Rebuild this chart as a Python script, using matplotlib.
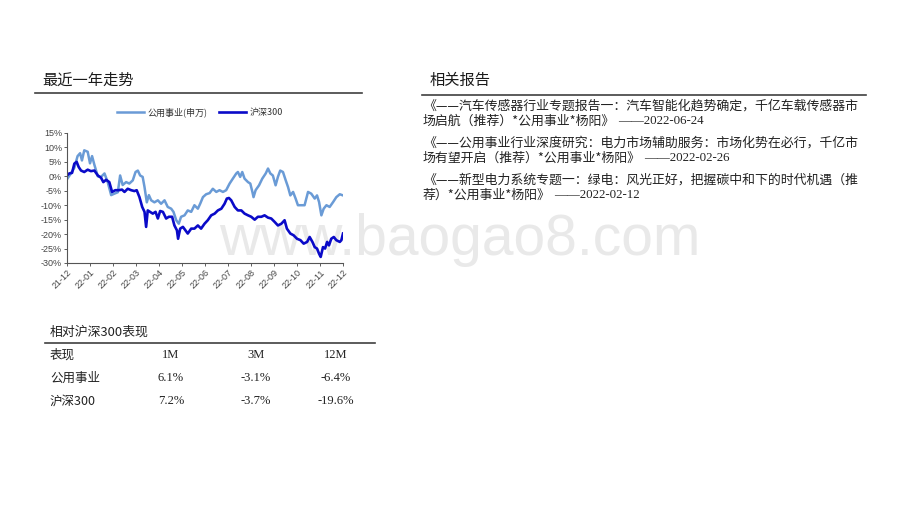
import matplotlib.pyplot as plt
import numpy as np

plt.rcParams['font.family'] = ['Noto Sans CJK SC', 'DejaVu Sans']

# month offsets from 21-12 and cumulative return (%)
util_x = [0.00, 0.17, 0.32, 0.46, 0.57, 0.65, 0.75, 0.90, 1.00, 1.09, 1.19, 1.34, 1.48, 1.63, 1.77,
          1.92, 2.06, 2.21, 2.31, 2.42, 2.57, 2.71, 2.86, 2.98, 3.08, 3.18, 3.29, 3.37, 3.47, 3.56,
          3.66, 3.80, 3.95, 4.09, 4.24, 4.38, 4.53, 4.63, 4.75, 4.86, 4.96, 5.11, 5.25, 5.40, 5.54,
          5.69, 5.79, 5.91, 6.05, 6.20, 6.34, 6.49, 6.63, 6.78, 6.92, 7.07, 7.21, 7.36, 7.43, 7.53,
          7.62, 7.72, 7.87, 7.97, 8.06, 8.11, 8.20, 8.35, 8.49, 8.64, 8.74, 8.84, 8.95, 9.07, 9.17,
          9.27, 9.39, 9.51, 9.61, 9.71, 9.83, 9.94, 10.04, 10.19, 10.33, 10.48, 10.62, 10.77, 10.87,
          10.96, 11.06, 11.16, 11.28, 11.42, 11.57, 11.71, 11.86, 12.00]
util_y = [-1.0, 1.0, 3.0, 7.0, 8.0, 5.5, 9.0, 8.5, 4.5, 7.0, 4.0, 0.0, -0.2, 1.0, -2.0,
          -6.5, -6.0, -5.5, 0.3, -3.0, -2.0, -2.5, -1.4, 1.5, 2.0, 0.3, -0.2, -3.7, -9.0, -6.5,
          -8.3, -9.0, -8.3, -9.5, -8.3, -10.6, -11.2, -12.3, -15.2, -16.4, -14.0, -13.5, -11.8, -12.3, -10.0,
          -11.2, -9.5, -7.2, -6.2, -5.8, -4.3, -5.4, -4.8, -5.4, -4.8, -2.5, -0.8, 1.0, 1.5, -0.2,
          1.5, -0.8, -2.0, -2.5, -5.4, -7.2, -4.8, -3.1, -0.8, 1.0, 2.7, 1.0, 0.3, -3.1, -0.2,
          2.0, 1.5, -1.4, -3.7, -6.6, -5.4, -7.7, -10.0, -10.0, -10.0, -5.4, -6.0, -7.7, -6.6,
          -8.9, -13.5, -11.2, -10.0, -10.6, -8.9, -7.2, -6.2, -6.6]

hs300_x = [0.00, 0.10, 0.22, 0.32, 0.42, 0.51, 0.61, 0.75, 0.90, 1.04, 1.19, 1.34, 1.48, 1.58, 1.70,
           1.84, 1.96, 2.10, 2.25, 2.39, 2.50, 2.64, 2.79, 2.93, 3.03, 3.15, 3.27, 3.37, 3.44, 3.51,
           3.61, 3.73, 3.85, 3.95, 4.05, 4.17, 4.31, 4.43, 4.57, 4.67, 4.78, 4.83, 4.92, 5.04, 5.15,
           5.25, 5.40, 5.54, 5.69, 5.83, 5.98, 6.12, 6.27, 6.42, 6.56, 6.71, 6.85, 6.95, 7.04, 7.14,
           7.29, 7.43, 7.58, 7.72, 7.87, 8.01, 8.16, 8.30, 8.45, 8.59, 8.74, 8.88, 9.03, 9.17, 9.32,
           9.46, 9.56, 9.71, 9.85, 10.00, 10.15, 10.29, 10.44, 10.55, 10.67, 10.77, 10.87, 10.96, 11.03,
           11.13, 11.22, 11.31, 11.39, 11.49, 11.60, 11.71, 11.86, 11.93, 12.00]
hs300_y = [0.3, 1.0, 1.2, 4.4, 5.0, 3.2, 2.0, 1.5, 2.3, 1.8, 2.0, 0.3, -0.5, -2.0, -1.2,
           -2.0, -5.4, -4.8, -4.8, -4.6, -5.4, -4.3, -4.8, -5.1, -4.8, -7.2, -10.6, -12.3, -17.5, -11.8,
           -12.3, -12.9, -12.3, -14.6, -12.0, -12.3, -14.6, -14.0, -14.0, -17.0, -18.7, -21.6, -18.1, -17.5, -18.7,
           -19.8, -18.1, -18.1, -17.0, -18.1, -16.4, -15.2, -13.5, -12.9, -11.8, -11.2, -9.5, -7.7, -7.5, -8.3,
           -10.6, -11.8, -11.8, -12.9, -13.5, -14.0, -15.0, -14.0, -14.0, -13.5, -14.3, -14.6, -15.8, -17.0, -16.4,
           -15.2, -18.1, -19.8, -20.4, -21.6, -22.1, -23.3, -22.7, -21.0, -22.7, -24.5, -25.0, -26.8, -27.9,
           -24.5, -25.0, -22.7, -23.9, -21.6, -21.0, -22.1, -22.7, -22.1, -19.8]

month_labels = ['21-12', '22-01', '22-02', '22-03', '22-04', '22-05', '22-06',
                '22-07', '22-08', '22-09', '22-10', '22-11', '22-12']
y_ticks = [15, 10, 5, 0, -5, -10, -15, -20, -25, -30]

reports = [
    ('《——汽车传感器行业专题报告一：汽车智能化趋势确定，千亿车载传感器市', '场启航（推荐）*公用事业*杨阳》', '——2022-06-24'),
    ('《——公用事业行业深度研究：电力市场辅助服务：市场化势在必行，千亿市', '场有望开启（推荐）*公用事业*杨阳》', '——2022-02-26'),
    ('《——新型电力系统专题一：绿电：风光正好，把握碳中和下的时代机遇（推', '荐）*公用事业*杨阳》', '——2022-02-12'),
]

table_cols = ['1M', '3M', '12M']
table_rows = ['公用事业', '沪深300']
table_vals = [['6.1%', '-3.1%', '-6.4%'], ['7.2%', '-3.7%', '-19.6%']]

W, H = 920, 518
fig = plt.figure(figsize=(W / 100, H / 100), dpi=100)
fig.patch.set_facecolor('white')

def fx(px):
    return px / W

def fy(py):
    return 1 - py / H

# watermark
fig.text(fx(460), fy(240), 'www.baogao8.com', fontsize=41, color='#e9e9e9',
         family='Liberation Sans', ha='center', va='center', zorder=-5)

# section headers
fig.text(fx(42), fy(80), '最近一年走势', fontsize=11, color='#1a1a1a', va='center')
fig.add_artist(plt.Line2D([fx(35), fx(362)], [fy(93), fy(93)], color='#404040', lw=1.2))
fig.text(fx(430), fy(80), '相关报告', fontsize=11, color='#1a1a1a', va='center')
fig.add_artist(plt.Line2D([fx(422), fx(866)], [fy(95), fy(95)], color='#404040', lw=1.2))

# chart
ax = fig.add_axes([fx(67), fy(263), fx(343) - fx(67), fy(133) - fy(263)])
ax.patch.set_alpha(0)
ax.plot(util_x, util_y, color='#6a9bd6', lw=1.8, label='公用事业(申万)')
ax.plot(hs300_x, hs300_y, color='#0a0ac8', lw=1.9, label='沪深300')
ax.set_xlim(0, 12)
ax.set_ylim(-30, 15)
ax.set_xticks(np.arange(len(month_labels)))
ax.set_xticklabels(month_labels, rotation=45, ha='right', rotation_mode='anchor',
                   family='Liberation Sans')
ax.set_yticks(y_ticks)
ax.set_yticklabels([f'{v}%' for v in y_ticks], family='Liberation Sans')
ax.tick_params(labelsize=6.5, colors='#444444', length=2, width=0.6, pad=1.5)
for s in ['top', 'right']:
    ax.spines[s].set_visible(False)
for s in ['left', 'bottom']:
    ax.spines[s].set_color('#555555')
    ax.spines[s].set_linewidth(0.8)
ax.legend(loc='center', bbox_to_anchor=(fx(200), fy(112)), bbox_transform=fig.transFigure,
          ncol=2, frameon=False, fontsize=6.5, handlelength=3, columnspacing=1.2,
          handletextpad=0.4, labelcolor='#333333')

# related reports
for (l1, l2, date), y0 in zip(reports, [106, 143, 180]):
    fig.text(fx(423), fy(y0), l1, fontsize=9.3, color='#222222', va='center')
    t2 = fig.text(fx(423), fy(y0 + 15), l2, fontsize=9.3, color='#222222', va='center')
    fig.add_artist(plt.Annotation(date, xy=(1, 0.5), xycoords=t2, xytext=(2, 0),
                                  textcoords='offset points', va='center',
                                  fontsize=9.3, family='Liberation Serif', color='#222222'))

# performance table
fig.text(fx(50), fy(332), '相对沪深300表现', fontsize=9.3, color='#222222', va='center')
fig.add_artist(plt.Line2D([fx(45), fx(375)], [fy(343), fy(343)], color='#404040', lw=1.2))
col_x = [171, 256, 336]
fig.text(fx(50), fy(355), '表现', fontsize=9, color='#222222', va='center')
for c, cx in zip(table_cols, col_x):
    fig.text(fx(cx), fy(355), c, fontsize=9, family='Liberation Serif', color='#222222',
             ha='center', va='center')
for i, (r, vals) in enumerate(zip(table_rows, table_vals)):
    ry = 378 + 23 * i
    fig.text(fx(50), fy(ry), r, fontsize=9, color='#222222', va='center')
    for v, cx in zip(vals, col_x):
        fig.text(fx(cx), fy(ry), v, fontsize=9, family='Liberation Serif', color='#222222',
                 ha='center', va='center')

fig.savefig('out.png', dpi=100)
